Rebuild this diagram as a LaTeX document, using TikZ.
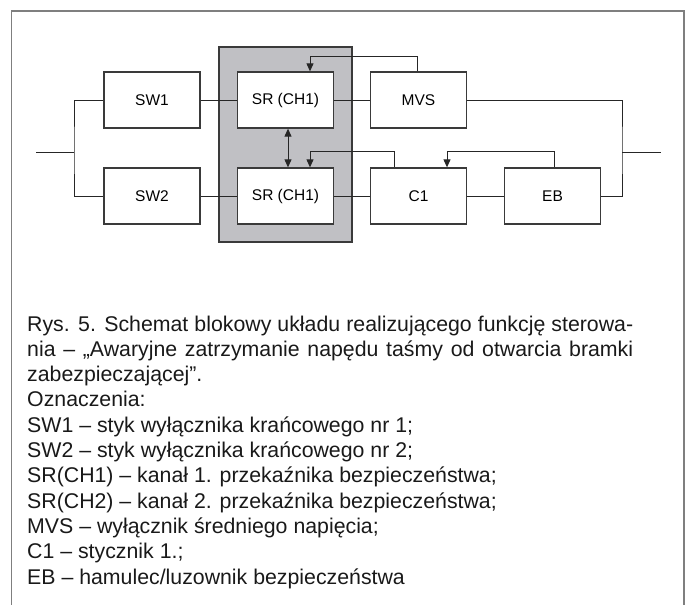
\documentclass[tikz,border=0pt]{standalone}
\usepackage{fontspec}
\setmainfont{Liberation Sans}
\usetikzlibrary{arrows.meta}
\definecolor{framegray}{HTML}{7F7F7F}
\definecolor{panelgray}{HTML}{C0C0C4}
\definecolor{edgegray}{HTML}{3A3A3A}
\begin{document}
\begin{tikzpicture}[x=1pt,y=-1pt,
  blk/.style={draw=edgegray,line width=1.3pt,fill=white,minimum width=96pt,minimum height=56pt,inner sep=0pt,font=\fontsize{15.5}{18}\selectfont},
  wire/.style={draw=black!85,line width=1pt},
  fb/.style={wire,-{Triangle[length=8pt,width=7pt]}},
  captxt/.style={anchor=base west,inner sep=0pt,font=\fontsize{21.3}{25}\selectfont,text=black!90}]
\useasboundingbox (0,0) rectangle (688,605);
% frame
\draw[framegray,line width=1.2pt] (11.5,605) -- (11.5,11) -- (684,11) -- (684,605);
% shaded panel
\node[draw=edgegray,line width=1.3pt,fill=panelgray,minimum width=133pt,minimum height=195pt,inner sep=0pt] (panel) at (285.5,144.5) {};
% blocks
\node[blk] (sw1) at (152,100) {SW1};
\node[blk] (sr1) at (285.5,100) {SR (CH1)};
\node[blk] (mvs) at (418.5,100) {MVS};
\node[blk] (sw2) at (152,196) {SW2};
\node[blk] (sr2) at (285.5,196) {SR (CH1)};
\node[blk] (c1) at (418.5,196) {C1};
\node[blk] (eb) at (552.5,196) {EB};
% junction coordinates
\coordinate (inl) at (36,152);
\coordinate (jl) at (74,152);
\coordinate (jr) at (622,152);
\coordinate (outr) at (661,152);
% wiring
\draw[wire] (inl) -- (jl);
\draw[wire] (sw1.west) -| (jl) |- (sw2.west);
\draw[wire] (sw1.east) -- (sr1.west);
\draw[wire] (sr1.east) -- (mvs.west);
\draw[wire] (sw2.east) -- (sr2.west);
\draw[wire] (sr2.east) -- (c1.west);
\draw[wire] (c1.east) -- (eb.west);
\draw[wire] (mvs.east) -| (jr) |- (eb.east);
\draw[wire] (jr) -- (outr);
% feedback arrows
\draw[fb] ([xshift=-1.5pt]mvs.north) -- ++(0,-15) -| ([xshift=24.5pt]sr1.north);
\draw[fb] ([xshift=-24.5pt]c1.north) -- ++(0,-16) -| ([xshift=24.5pt]sr2.north);
\draw[fb] ([xshift=1.5pt]eb.north) -- ++(0,-16) -| ([xshift=28.5pt]c1.north);
\draw[wire,{Triangle[length=8pt,width=7pt]}-{Triangle[length=8pt,width=7pt]}] ([xshift=2.5pt]sr1.south) -- ([xshift=2.5pt]sr2.north);
% caption
\node[captxt] (l1) at (27,331) {\makebox[606pt][s]{Rys. 5. Schemat blokowy układu realizującego funkcję sterowa-}};
\node[captxt] (l2) at (27,356.3) {\makebox[606pt][s]{nia – „Awaryjne zatrzymanie napędu taśmy od otwarcia bramki}};
\node[captxt] (l3) at (27,381.6) {zabezpieczającej”.};
\node[captxt] (l4) at (27,406.9) {Oznaczenia:};
\node[captxt] (l5) at (27,432.2) {SW1 – styk wyłącznika krańcowego nr 1;};
\node[captxt] (l6) at (27,457.5) {SW2 – styk wyłącznika krańcowego nr 2;};
\node[captxt] (l7) at (27,482.8) {SR(CH1) – kanał 1. przekaźnika bezpieczeństwa;};
\node[captxt] (l8) at (27,508.1) {SR(CH2) – kanał 2. przekaźnika bezpieczeństwa;};
\node[captxt] (l9) at (27,533.4) {MVS – wyłącznik średniego napięcia;};
\node[captxt] (l10) at (27,558.7) {C1 – stycznik 1.;};
\node[captxt] (l11) at (27,584) {EB – hamulec/luzownik bezpieczeństwa};
\end{tikzpicture}
\end{document}
